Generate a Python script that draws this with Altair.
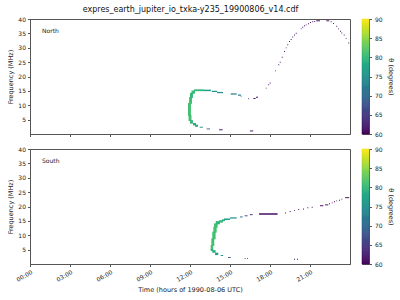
import altair as alt
import pandas as pd

TITLE = "expres_earth_jupiter_io_txka-y235_19900806_v14.cdf"
X_TICKS = [0, 3, 6, 9, 12, 15, 18, 21]
Y_TICKS = [5, 10, 15, 20, 25, 30, 35, 40]
CB_TICKS = [60, 65, 70, 75, 80, 85, 90]

# ---- North panel: emission cells (time in hours, frequency in MHz, theta in degrees)
n_t0 = [11.85, 11.93, 12.00, 12.11, 12.30, 13.05, 13.63, 14.03, 15.05, 15.60, 15.80, 16.35,
        16.75, 16.95, 11.89, 12.00, 12.23, 12.38, 12.73, 13.25, 14.18, 16.50,
        17.68, 17.87, 17.98, 18.38, 18.62, 18.73, 18.88, 19.05, 19.18, 19.30, 19.43, 19.55,
        19.67, 19.80, 19.93, 20.30, 20.42, 20.55, 20.68, 20.85, 21.00, 21.17, 21.32, 21.47,
        22.22, 22.55, 22.73, 22.97, 23.10, 23.25, 23.35, 23.53, 23.68, 23.87]
n_t1 = [12.00, 12.08, 12.15, 12.30, 12.98, 13.50, 13.97, 14.40, 15.43, 15.75, 15.80, 16.35,
        16.85, 17.03, 12.04, 12.15, 12.38, 12.53, 12.90, 13.43, 14.38, 16.67,
        17.68, 17.87, 17.98, 18.38, 18.62, 18.73, 18.88, 19.05, 19.18, 19.30, 19.43, 19.55,
        19.67, 19.80, 19.93, 20.30, 20.42, 20.55, 20.68, 20.85, 21.00, 21.17, 21.32, 21.68,
        22.37, 22.55, 22.73, 22.97, 23.10, 23.25, 23.35, 23.53, 23.68, 23.87]
n_f0 = [6.3, 10.5, 12.5, 14.0, 14.9, 14.9, 14.6, 14.2, 13.7, 13.3, 13.0, 12.1,
        12.2, 12.6, 4.5, 3.6, 3.0, 2.5, 2.2, 1.6, 1.3, 0.9,
        15.8, 17.0, 17.6, 21.8, 23.9, 24.8, 26.5, 28.5, 29.8, 30.9, 32.0, 32.7,
        33.6, 34.3, 34.9, 36.4, 37.0, 37.5, 37.8, 38.2, 38.6, 38.9, 39.0, 39.2,
        39.2, 38.9, 38.3, 37.3, 36.4, 35.6, 35.0, 34.3, 33.1, 31.5]
n_f1 = [10.5, 12.5, 14.0, 14.8, 15.2, 15.1, 14.7, 14.3, 13.8, 13.4, 13.0, 12.1,
        12.2, 12.6, 6.3, 4.5, 3.5, 2.9, 2.2, 1.6, 1.3, 0.9,
        15.8, 17.0, 17.6, 21.8, 23.9, 24.8, 26.5, 28.5, 29.8, 30.9, 32.0, 32.7,
        33.6, 34.3, 34.9, 36.4, 37.0, 37.5, 37.8, 38.2, 38.6, 38.9, 39.0, 39.2,
        39.2, 38.9, 38.3, 37.3, 36.4, 35.6, 35.0, 34.3, 33.1, 31.5]
n_theta = [81, 81, 80, 80, 80, 77, 75, 75, 73, 73, 72, 67,
           61, 61, 81, 80, 78, 78, 75, 71, 62, 61,
           61, 61, 61, 61, 61, 61, 61, 61, 61, 61, 61, 61,
           61, 61, 61, 61, 61, 61, 61, 61, 61, 61, 61, 61,
           61, 61, 61, 61, 61, 61, 61, 61, 61, 61]

# ---- South panel
s_t0 = [13.55, 13.60, 13.67, 13.75, 13.80, 13.93, 14.18, 14.40, 14.55, 15.00, 15.75, 16.10,
        16.50, 17.18, 13.55, 13.67, 13.88, 14.30, 14.85, 16.10, 16.28, 19.80, 20.03,
        19.13, 19.48, 19.80, 20.12, 20.48, 20.80, 21.13, 21.75, 22.13, 22.43, 22.63, 22.80,
        22.97, 23.18, 23.35, 23.63]
s_t1 = [13.67, 13.75, 13.85, 13.93, 14.00, 14.18, 14.40, 14.55, 14.93, 15.43, 15.88, 16.25,
        16.63, 18.50, 13.67, 13.85, 14.05, 14.42, 14.98, 16.10, 16.28, 19.80, 20.03,
        19.13, 19.48, 19.80, 20.12, 20.48, 20.80, 21.13, 21.93, 22.30, 22.43, 22.63, 22.80,
        22.97, 23.18, 23.35, 23.87]
s_f0 = [4.9, 6.3, 8.6, 10.9, 12.6, 13.8, 14.4, 14.9, 15.3, 15.8, 16.2, 16.6,
        17.0, 17.1, 4.5, 3.9, 3.1, 2.8, 2.1, 1.8, 1.8, 1.5, 1.5,
        17.6, 18.1, 18.4, 18.8, 19.0, 19.4, 19.6, 20.1, 20.4, 20.8, 21.1, 21.5,
        21.8, 22.0, 22.4, 22.9]
s_f1 = [6.3, 8.6, 10.9, 12.6, 13.8, 14.6, 14.9, 15.2, 15.5, 15.9, 16.2, 16.6,
        17.0, 17.3, 4.9, 4.5, 3.6, 2.8, 2.1, 1.8, 1.8, 1.5, 1.5,
        17.6, 18.1, 18.4, 18.8, 19.0, 19.4, 19.6, 20.1, 20.4, 20.8, 21.1, 21.5,
        21.8, 22.0, 22.4, 22.9]
s_theta = [81, 81, 81, 81, 81, 80, 80, 79, 77, 75, 69, 66,
           63, 61, 80, 79, 77, 75, 69, 61, 61, 61, 61,
           60.5, 60.5, 60.5, 60.5, 60.5, 60.5, 60.5, 60.5, 60.5, 60.5, 60.5, 60.5,
           60.5, 60.5, 60.5, 60.5]

DT = 0.07    # one time bin (h)
DF = 0.33    # one frequency bin (MHz)

cscale = alt.Scale(scheme="viridis", domain=[60, 90])


def panel(t0, t1, f0, f1, th, label, bottom):
    df = pd.DataFrame({"t0": t0, "t1": t1, "f0": f0, "f1": f1, "theta": th})
    xaxis = alt.Axis(values=X_TICKS, labels=bottom, ticks=True, grid=False,
                     title="Time (hours of 1990-08-06 UTC)" if bottom else None,
                     labelExpr="(datum.value < 10 ? '0' : '') + datum.value + ':00'",
                     labelAngle=-30, labelAlign="right", labelBaseline="top",
                     titlePadding=4)
    cells = alt.Chart(df).transform_calculate(
        t2=f"datum.t1 + {DT}", f2=f"datum.f1 + {DF}"
    ).mark_rect().encode(
        x=alt.X("t0:Q", scale=alt.Scale(domain=[0, 24], nice=False), axis=xaxis),
        x2="t2:Q",
        y=alt.Y("f0:Q", scale=alt.Scale(domain=[0, 40], nice=False),
                axis=alt.Axis(values=Y_TICKS, grid=False, title="Frequency (MHz)")),
        y2="f2:Q",
        color=alt.Color("theta:Q", scale=cscale, legend=None),
    )
    txt = alt.Chart(pd.DataFrame({"label": [label]})).mark_text(
        align="left", baseline="middle", fontSize=6, font="DejaVu Sans", color="#222"
    ).encode(x=alt.value(12), y=alt.value(12), text="label:N")
    return alt.layer(cells, txt).properties(width=320, height=115)


def colorbar():
    return alt.Chart(alt.sequence(start=60, stop=90, step=0.25, as_="v")).transform_calculate(
        v2="datum.v + 0.25"
    ).mark_rect(strokeWidth=0.6).encode(
        x=alt.value(0), x2=alt.value(7),
        y=alt.Y("v:Q", scale=alt.Scale(domain=[60, 90], nice=False),
                axis=alt.Axis(orient="right", values=CB_TICKS, grid=False,
                              title="θ (degrees)", titlePadding=5, labelPadding=3)),
        y2="v2:Q",
        color=alt.Color("v:Q", scale=cscale, legend=None),
        stroke=alt.Stroke("v:Q", scale=cscale, legend=None),
    ).properties(width=7, height=115)


north = panel(n_t0, n_t1, n_f0, n_f1, n_theta, "North", False)
south = panel(s_t0, s_t1, s_f0, s_f1, s_theta, "South", True)

chart = alt.hconcat(
    alt.vconcat(north, south, spacing=15, bounds="flush"),
    alt.vconcat(colorbar(), colorbar(), spacing=15, bounds="flush"),
    spacing=10,
).properties(
    title=alt.TitleParams(TITLE, fontSize=8, fontWeight="normal", font="DejaVu Sans",
                          color="#111", anchor="middle", offset=2, dx=-10),
    padding={"left": 7, "top": 5, "right": 5, "bottom": 5},
    background="white",
).configure_view(
    stroke="#555", strokeWidth=1
).configure_axis(
    labelFont="DejaVu Sans", titleFont="DejaVu Sans", labelFontSize=6, titleFontSize=6.5,
    titleFontWeight="normal", labelColor="#222", titleColor="#222",
    domainColor="#555", tickColor="#555", tickSize=2.5, labelPadding=2, titlePadding=4,
    domain=True
)

chart.save("out.html", embed_options={"renderer": "svg", "actions": False})
